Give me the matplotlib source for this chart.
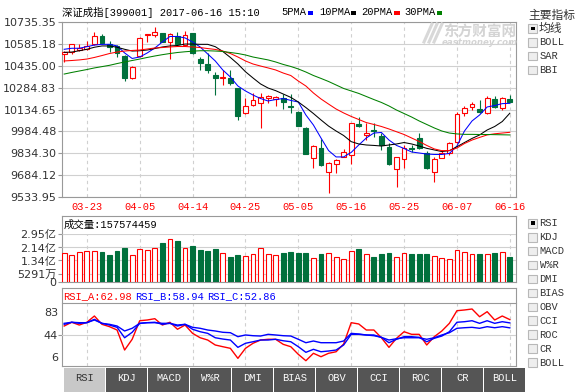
import matplotlib
matplotlib.use('Agg')
import numpy as np
import matplotlib.pyplot as plt
from matplotlib.patches import Rectangle
from matplotlib.lines import Line2D

# ---- data (399001, 2017-03-20 .. 2017-06-16) ----
dates = ['03-20', '03-21', '03-22', '03-23', '03-24', '03-27', '03-28', '03-29', '03-30', '03-31',
         '04-05', '04-06', '04-07', '04-10', '04-11', '04-12', '04-13', '04-14', '04-17', '04-18',
         '04-19', '04-20', '04-21', '04-24', '04-25', '04-26', '04-27', '04-28', '05-02', '05-03',
         '05-04', '05-05', '05-08', '05-09', '05-10', '05-11', '05-12', '05-15', '05-16', '05-17',
         '05-18', '05-19', '05-22', '05-23', '05-24', '05-25', '05-26', '05-31', '06-01', '06-02',
         '06-05', '06-06', '06-07', '06-08', '06-09', '06-12', '06-13', '06-14', '06-15', '06-16']
shown_dates = ['03-23', '04-05', '04-14', '04-25', '05-05', '05-16', '05-25', '06-07', '06-16']

opens = [10516, 10532, 10540, 10550, 10581, 10639, 10582, 10571, 10502, 10348,
         10502, 10648, 10646, 10658, 10600, 10639, 10578, 10658, 10479, 10447,
         10370, 10351, 10349, 10280, 10109, 10166, 10177, 10212, 10209, 10216,
         10159, 10120, 10006, 9800, 9868, 9708, 9759, 9811, 9822, 10033,
         9958, 9994, 9953, 9879, 9724, 9793, 9872, 9937, 9834, 9708,
         9804, 9838, 9914, 10109, 10150, 10138, 10109, 10207, 10143, 10207]
highs = [10536, 10584, 10584, 10602, 10665, 10653, 10605, 10578, 10509, 10430,
         10629, 10653, 10702, 10663, 10660, 10665, 10674, 10660, 10497, 10520,
         10394, 10406, 10406, 10282, 10216, 10246, 10246, 10234, 10227, 10241,
         10241, 10124, 10017, 9888, 9932, 9774, 9793, 9862, 10042, 10085,
         10040, 10040, 9975, 9903, 9811, 9891, 9891, 9971, 9850, 9811,
         9857, 9914, 10120, 10159, 10188, 10200, 10227, 10227, 10221, 10234]
lows = [10463, 10516, 10536, 10543, 10578, 10584, 10531, 10493, 10327, 10344,
        10495, 10600, 10635, 10598, 10479, 10578, 10574, 10514, 10406, 10385,
        10231, 10303, 10303, 10063, 10102, 10162, 10010, 10177, 10159, 10136,
        10113, 10018, 9826, 9735, 9750, 9564, 9701, 9809, 9761, 10017,
        9925, 9948, 9857, 9757, 9605, 9731, 9845, 9864, 9728, 9639,
        9800, 9822, 9907, 10092, 10131, 10113, 10102, 10143, 10131, 10184]
closes = [10532, 10584, 10557, 10574, 10639, 10589, 10566, 10521, 10348, 10426,
          10626, 10652, 10665, 10600, 10651, 10584, 10646, 10521, 10452, 10406,
          10349, 10354, 10315, 10092, 10159, 10200, 10223, 10229, 10223, 10184,
          10150, 10021, 9829, 9884, 9754, 9770, 9788, 9841, 10040, 10021,
          9971, 9987, 9891, 9761, 9807, 9868, 9862, 9868, 9731, 9793,
          9838, 9907, 10102, 10143, 10170, 10120, 10216, 10150, 10216, 10188]

ma5 = [10548, 10555, 10555, 10566, 10577, 10582, 10582, 10571, 10523, 10485,
       10495, 10523, 10557, 10598, 10636, 10636, 10626, 10598, 10564, 10516,
       10468, 10406, 10358, 10296, 10262, 10234, 10210, 10193, 10203, 10210,
       10197, 10186, 10097, 10028, 9939, 9853, 9809, 9809, 9840, 9891,
       9939, 9973, 9977, 9925, 9888, 9867, 9843, 9836, 9829, 9826,
       9826, 9833, 9884, 9987, 10056, 10097, 10152, 10162, 10175, 10177]
ma10 = [10527, 10529, 10538, 10548, 10562, 10571, 10571, 10562, 10548, 10536,
        10538, 10543, 10553, 10564, 10571, 10574, 10584, 10584, 10582, 10582,
        10566, 10533, 10492, 10447, 10394, 10351, 10310, 10282, 10264, 10241,
        10218, 10186, 10148, 10107, 10063, 10021, 9987, 9956, 9914, 9898,
        9891, 9888, 9884, 9891, 9898, 9908, 9898, 9884, 9868, 9857,
        9846, 9852, 9879, 9908, 9936, 9960, 9994, 10018, 10052, 10109]
ma20 = [10468, 10471, 10475, 10481, 10492, 10505, 10519, 10529, 10536, 10540,
        10543, 10550, 10557, 10560, 10564, 10567, 10567, 10564, 10560, 10553,
        10547, 10536, 10519, 10495, 10468, 10447, 10433, 10420, 10406, 10385,
        10368, 10330, 10296, 10248, 10207, 10172, 10138, 10111, 10087, 10066,
        10045, 10032, 10018, 10001, 9982, 9963, 9939, 9915, 9888, 9864,
        9852, 9853, 9870, 9901, 9925, 9943, 9960, 9968, 9973, 9978]
ma30 = [10378, 10389, 10399, 10409, 10420, 10429, 10438, 10450, 10461, 10471,
        10481, 10492, 10502, 10511, 10519, 10526, 10531, 10535, 10538, 10538,
        10536, 10533, 10526, 10519, 10509, 10495, 10485, 10475, 10461, 10444,
        10430, 10413, 10392, 10368, 10348, 10327, 10303, 10279, 10262, 10245,
        10224, 10203, 10183, 10159, 10131, 10107, 10083, 10056, 10032, 10008,
        9987, 9973, 9967, 9964, 9964, 9963, 9963, 9962, 9961, 9960]

# volume in 亿 (1e8) shares
volume = [1.78, 1.68, 1.84, 1.92, 1.92, 1.86, 1.68, 1.92, 2.09, 1.68,
          2.03, 1.99, 2.09, 2.42, 2.64, 2.54, 2.09, 2.23, 1.99, 1.92,
          2.05, 1.78, 1.54, 1.68, 1.62, 1.72, 2.09, 1.72, 1.68, 1.78,
          1.88, 1.78, 1.78, 1.48, 1.72, 1.82, 1.54, 1.41, 1.94, 2.03,
          1.72, 1.57, 1.72, 1.82, 1.57, 1.82, 1.72, 1.72, 1.72, 1.62,
          1.51, 1.43, 1.99, 1.88, 1.74, 1.72, 1.72, 1.78, 1.88, 1.57574459]

rsi_a = [55.1, 59.7, 56.3, 59.7, 67.4, 57.2, 54.3, 50.2, 25.6, 38.8,
         61.6, 62.5, 64.1, 56.3, 59.7, 51.1, 56.3, 46.1, 40.7, 37.9,
         31.8, 29.7, 27.7, 15.4, 27.7, 33.9, 37.9, 38.8, 38.8, 32.6,
         29.7, 20.3, 12.5, 21.6, 17.4, 21.6, 23.5, 33.0, 59.2, 57.6,
         50.2, 50.2, 40.7, 28.9, 40.0, 48.1, 44.9, 44.9, 31.8, 42.0,
         49.0, 58.4, 73.9, 74.8, 76.0, 66.5, 72.7, 62.5, 67.4, 62.98]
rsi_b = [57.2, 59.7, 58.4, 59.2, 63.3, 58.4, 56.3, 53.5, 40.7, 47.4,
         58.4, 59.2, 59.7, 57.2, 58.4, 55.1, 57.2, 51.1, 48.1, 46.1,
         40.7, 39.1, 37.9, 28.9, 33.9, 35.8, 37.9, 37.9, 38.8, 37.0,
         35.8, 29.7, 22.8, 26.5, 23.5, 24.4, 25.6, 31.8, 44.9, 44.9,
         44.1, 44.1, 41.2, 34.6, 38.8, 42.0, 42.0, 41.2, 35.8, 40.0,
         42.8, 48.1, 59.7, 60.4, 61.6, 58.4, 61.6, 58.4, 60.4, 58.94]
rsi_c = [58.4, 59.7, 59.2, 59.2, 62.5, 58.4, 57.2, 55.1, 49.0, 52.3,
         58.4, 59.2, 59.2, 58.4, 58.4, 56.3, 57.2, 53.5, 52.3, 50.2,
         49.0, 47.4, 46.9, 42.0, 44.1, 43.2, 42.8, 44.9, 44.1, 43.2,
         42.8, 38.8, 34.6, 36.7, 34.6, 34.6, 34.6, 36.7, 46.1, 45.3,
         44.1, 43.2, 41.2, 37.9, 39.5, 40.7, 40.7, 40.7, 38.8, 40.7,
         44.1, 46.9, 52.3, 53.0, 53.5, 52.3, 54.3, 53.0, 54.3, 52.86]

price_ticks = ['9533.95', '9684.12', '9834.30', '9984.48', '10134.65',
               '10284.83', '10435.00', '10585.18', '10735.35']
vol_ticks = [0, 0.5291, 1.34, 2.14, 2.95]
vol_tick_labels = ['0', '5291万', '1.34亿', '2.14亿', '2.95亿']
rsi_ticks = [83, 44, 6]

main_items = ['均线', 'BOLL', 'SAR', 'BBI']
sub_items = ['RSI', 'KDJ', 'MACD', 'W%R', 'DMI', 'BIAS', 'OBV', 'CCI', 'ROC', 'CR', 'BOLL']

# ---- styling ----
W, H = 579, 392
RED = '#ff0000'
GREEN = '#00703c'
BLUE = '#0000ff'
GRID = '#d0d0d0'
FRAME = '#999999'
TXT = '#333333'
MONO = ['Liberation Mono', 'Noto Sans CJK SC']
SANS = ['DejaVu Sans', 'Noto Sans CJK SC']
CJK = ['Noto Sans CJK SC', 'DejaVu Sans']

fig = plt.figure(figsize=(W / 100, H / 100), dpi=100)
fig.patch.set_facecolor('white')


def px_axes(x0, y0, x1, y1):
    return fig.add_axes([x0 / W, 1 - y1 / H, (x1 - x0) / W, (y1 - y0) / H])


def px_text(x, y, s, **kw):
    kw.setdefault('va', 'center')
    return fig.text(x / W, 1 - y / H, s, **kw)


def px_rect(x0, y0, x1, y1, **kw):
    fig.add_artist(Rectangle((x0 / W, 1 - y1 / H), (x1 - x0) / W, (y1 - y0) / H,
                             transform=fig.transFigure, **kw))


x = np.arange(len(dates))
mark_idx = [dates.index(d) for d in shown_dates]
xlim = (-0.29, 59.82)
is_up = [c >= o for o, c in zip(opens, closes)]

# ---- price panel ----
ax = px_axes(62, 22, 516, 197)
ax.set_xlim(*xlim)
ax.set_ylim(float(price_ticks[0]), float(price_ticks[-1]))
ax.set_yticks([float(t) for t in price_ticks])
ax.set_yticklabels(price_ticks, family=SANS, fontsize=8, color=TXT)
ax.tick_params(axis='y', length=3, color=FRAME, pad=1)
ax.set_xticks(mark_idx)
ax.set_xticklabels(shown_dates, family=MONO, fontsize=7.5, color=RED)
ax.tick_params(axis='x', length=0, pad=3.5)
ax.grid(axis='y', color=GRID, lw=0.8)
for i in mark_idx:
    ax.axvline(i, color=GRID, lw=0.8, ls=(0, (3, 3)), zorder=1)
for s in ax.spines.values():
    s.set_color(FRAME)

for i in x:
    col = RED if is_up[i] else GREEN
    ax.vlines(i, lows[i], highs[i], color=col, lw=0.8, zorder=2)
    body = max(abs(closes[i] - opens[i]), 4)
    ax.bar(i, body, bottom=min(opens[i], closes[i]), width=0.64,
           facecolor='white' if is_up[i] else GREEN, edgecolor=col, lw=0.8, zorder=3)

ax.plot(x, ma5, color=BLUE, lw=0.75, zorder=4)
ax.plot(x, ma10, color='black', lw=0.75, zorder=4)
ax.plot(x, ma20, color=RED, lw=0.75, zorder=4)
ax.plot(x, ma30, color='#008000', lw=0.75, zorder=4)

# header
px_text(62, 12.3, '深证成指[399001] 2017-06-16 15:10', family=MONO, fontsize=7.5, color='black')
legend = [('5PMA', 281.7, 307.7, BLUE), ('10PMA', 319, 350.7, 'black'),
          ('20PMA', 361.7, 394, RED), ('30PMA', 404, 436.7, '#008000')]
for name, tx, sx, col in legend:
    px_text(tx, 12.3, name, family=MONO, fontsize=7.5, color='black')
    px_rect(sx, 11.5, sx + 5.6, 14.5, color=col, lw=0)

# watermark
px_text(480, 31.5, '东方财富网', family=CJK, fontsize=10.5, weight='bold',
        color='#d4d4d4', ha='center')
px_text(480, 42.5, 'eastmoney.com', family='DejaVu Sans', fontsize=6.2, weight='bold',
        style='italic', color='#d4d4d4', ha='center')
for dx in (0, 5, 10):
    fig.add_artist(Line2D([(424 + dx) / W, (432 + dx) / W], [1 - 42 / H, 1 - 24 / H],
                          color='#d8d8d8', lw=2.2, transform=fig.transFigure))

# ---- volume panel ----
vf = px_axes(62, 216, 516, 282.3)
vf.set_xticks([])
vf.set_yticks([])
for s in vf.spines.values():
    s.set_color(FRAME)

av = px_axes(62, 234.3, 516, 282.3)
av.patch.set_alpha(0)
av.set_xlim(*xlim)
av.set_ylim(0, vol_ticks[-1])
av.set_yticks(vol_ticks)
av.set_yticklabels(vol_tick_labels, family=SANS, fontsize=8, color=TXT)
av.tick_params(axis='y', length=3, color=FRAME, pad=1)
av.set_xticks([])
av.grid(axis='y', color=GRID, lw=0.8)
for i in mark_idx:
    av.axvline(i, color=GRID, lw=0.8, ls=(0, (3, 3)), zorder=1)
for s in av.spines.values():
    s.set_visible(False)
av.bar(x, volume, width=0.64,
       color=['white' if u else GREEN for u in is_up],
       edgecolor=[RED if u else GREEN for u in is_up], lw=0.8, zorder=3)
px_text(64, 224.5, '成交量:%d' % round(volume[-1] * 1e8), family=MONO, fontsize=7.5,
        color='black')

# ---- RSI panel ----
rf = px_axes(62, 288.3, 516, 366)
rf.set_xticks([])
rf.set_yticks([])
for s in rf.spines.values():
    s.set_color(FRAME)

ar = px_axes(62, 303.3, 516, 366)
ar.patch.set_alpha(0)
ar.set_xlim(*xlim)
ar.set_ylim(rsi_ticks[-1], rsi_ticks[0])
ar.set_xticks([])
ar.set_yticks([44])
ar.set_yticklabels([])
ar.tick_params(axis='y', length=3, color=FRAME)
ar.axhline(44, color=GRID, lw=0.8)
for i in mark_idx:
    ar.axvline(i, color=GRID, lw=0.8, ls=(0, (3, 3)), zorder=1)
for k, s in ar.spines.items():
    s.set_visible(k == 'top')
    s.set_color(FRAME)
ar.plot(x, rsi_a, color=RED, lw=1.0, zorder=3)
ar.plot(x, rsi_b, color=BLUE, lw=1.0, zorder=3)
ar.plot(x, rsi_c, color=BLUE, lw=1.0, zorder=3)
for val, ypx in zip(rsi_ticks, [312.7, 336, 357.7]):
    px_text(58, ypx, str(val), family=SANS, fontsize=8, color=TXT, ha='right')

px_text(63, 296, 'RSI_A:%.2f' % rsi_a[-1], family=MONO, fontsize=7.5, color=RED)
px_text(135, 296, 'RSI_B:%.2f' % rsi_b[-1], family=MONO, fontsize=7.5, color=BLUE)
px_text(207, 296, 'RSI_C:%.2f' % rsi_c[-1], family=MONO, fontsize=7.5, color=BLUE)

# ---- right side panel ----
def checkbox(y, label, checked):
    px_rect(528.3, y - 4.3, 537, y + 4.3, facecolor='#eeeeee', edgecolor='#b8b8b8', lw=0.8)
    if checked:
        px_rect(530.8, y - 1.9, 534.6, y + 1.9, color='black', lw=0)
    if label.isascii():
        px_text(539.5, y, label, family=MONO, fontsize=7.5, color=TXT)
    else:
        px_text(539, y, label, family=CJK, fontsize=8.5, color=TXT)


px_text(528, 15, '主要指标', family=CJK, fontsize=8.5, color=TXT)
for k, name in enumerate(main_items):
    checkbox(28.5 + 13.8 * k, name, k == 0)
for k, name in enumerate(sub_items):
    checkbox(223.3 + 13.92 * k, name, k == 0)

# ---- bottom tabs ----
for k, name in enumerate(sub_items):
    x0 = 64 + 42 * k
    sel = k == 0
    px_rect(x0, 367.5, x0 + 41, 392, color='#c8c8c8' if sel else '#555555', lw=0)
    px_text(x0 + 20.5, 378, name, family=MONO, fontsize=7.5,
            color=TXT if sel else 'white', ha='center')

fig.savefig('out.png', dpi=100)
